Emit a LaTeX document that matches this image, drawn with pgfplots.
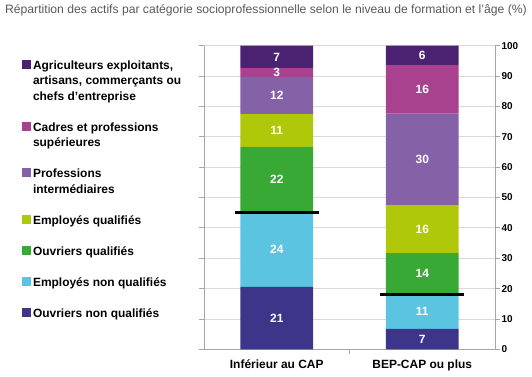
\documentclass[border=0pt]{standalone}
\usepackage{pgfplots}
\pgfplotsset{compat=1.18}
\usepackage{fontspec}
\setmainfont{Liberation Sans}
\definecolor{cAgri}{HTML}{4B2271}
\definecolor{cCadres}{HTML}{A9418E}
\definecolor{cPI}{HTML}{8561A8}
\definecolor{cEQ}{HTML}{B0C80A}
\definecolor{cOQ}{HTML}{39A935}
\definecolor{cENQ}{HTML}{5BC4E1}
\definecolor{cONQ}{HTML}{3C3589}
\definecolor{gridc}{HTML}{D9D9D9}
\definecolor{axisc}{HTML}{A6A6A6}
\definecolor{titlec}{HTML}{595959}
\newcommand\lstrut{\rule[-4.65bp]{0pt}{15.5bp}}
\newcommand\lentry[1]{\parbox[t]{170bp}{\baselineskip=15.5bp\lstrut #1\lstrut}}
\begin{document}
\begin{tikzpicture}
\path[use as bounding box] (0,0) rectangle (532bp,377bp);
\node[anchor=base west, inner sep=0pt, text=titlec, font=\fontsize{12.2}{14}\selectfont] at (5bp,363bp)
  {Répartition des actifs par catégorie socioprofessionnelle selon le niveau de formation et l'âge (\%)};
\begin{axis}[
  at={(204bp,27.7bp)}, anchor=south west,
  scale only axis, width=291bp, height=303.6bp,
  ybar stacked, bar width=72.7bp,
  xmin=-0.5, xmax=1.5, ymin=0, ymax=100,
  axis x line*=bottom, axis y line*=right,
  xtick={0.5}, xticklabels={},
  extra x ticks={0,1},
  extra x tick labels={Inférieur au CAP, BEP-CAP ou plus},
  extra x tick style={major tick length=0pt,
    xticklabel style={anchor=base, yshift=-19.5bp}},
  ytick={0,10,...,100},
  ymajorgrids, grid style={draw=gridc, line width=0.8bp},
  axis line style={draw=axisc, line width=0.8bp},
  tick style={draw=axisc, line width=0.8bp},
  tick align=outside, major tick length=5bp,
  /pgf/number format/assume math mode=true,
  yticklabel style={font=\fontsize{10}{12}\selectfont\bfseries, text=black, xshift=-2bp},
  xticklabel style={font=\fontsize{12}{14}\selectfont\bfseries, text=black},
  legend cell align=left,
  reverse legend,
  legend image code/.code={\fill[#1] (0bp,0.5bp) rectangle (9bp,9.5bp);},
  legend style={at={(axis description cs:-0.627,0.958)}, anchor=north west,
    draw=none, fill=none, inner sep=0pt, outer sep=0pt,
    font=\fontsize{12}{15.5}\selectfont\bfseries,
    row sep=15.5bp, column sep=2.5bp,
    nodes={inner sep=0pt, outer sep=0pt, text depth=},
    cells={anchor=base west}},
]
\addplot[fill=cONQ, draw=none] coordinates {(0,20.6) (1,6.7)};
\addlegendentry{\lentry{Ouvriers non qualifiés}}
\addplot[fill=cENQ, draw=none] coordinates {(0,24.4) (1,11.4)};
\addlegendentry{\lentry{Employés non qualifiés}}
\addplot[fill=cOQ, draw=none] coordinates {(0,21.7) (1,13.6)};
\addlegendentry{\lentry{Ouvriers qualifiés}}
\addplot[fill=cEQ, draw=none] coordinates {(0,10.8) (1,15.8)};
\addlegendentry{\lentry{Employés qualifiés}}
\addplot[fill=cPI, draw=none] coordinates {(0,12.2) (1,30.1)};
\addlegendentry{\lentry{Professions\\intermédiaires}}
\addplot[fill=cCadres, draw=none] coordinates {(0,2.9) (1,16.0)};
\addlegendentry{\lentry{Cadres et professions\\supérieures}}
\addplot[fill=cAgri, draw=none] coordinates {(0,7.4) (1,6.4)};
\addlegendentry{\lentry{Agriculteurs exploitants,\\artisans, commerçants ou\\chefs d'entreprise}}
\end{axis}
\begin{axis}[
  at={(204bp,27.7bp)}, anchor=south west,
  scale only axis, width=291bp, height=303.6bp,
  xmin=-0.5, xmax=1.5, ymin=0, ymax=100,
  axis x line=none, axis y line*=left,
  ytick={0,10,...,100}, yticklabels={},
  axis line style={draw=axisc, line width=0.8bp},
  tick style={draw=axisc, line width=0.8bp},
  tick align=outside, major tick length=5bp,
  clip=false,
]
\addplot[black, line width=3bp] coordinates {(-0.287,45.0) (0.287,45.0)};
\addplot[black, line width=3bp] coordinates {(0.713,18.1) (1.287,18.1)};
\addplot[only marks, mark=none, point meta=explicit symbolic,
  nodes near coords,
  nodes near coords style={anchor=center, inner sep=0pt, text=white,
    font=\fontsize{12}{14}\selectfont\bfseries}]
  table[x=x, y=y, meta=lab] {
x y lab
0 10.3 21
0 32.8 24
0 55.85 22
0 72.1 11
0 83.6 12
0 91.15 3
0 96.3 7
1 3.35 7
1 12.4 11
1 24.9 14
1 39.6 16
1 62.55 30
1 85.6 16
1 96.8 6
};
\end{axis}
\end{tikzpicture}
\end{document}
